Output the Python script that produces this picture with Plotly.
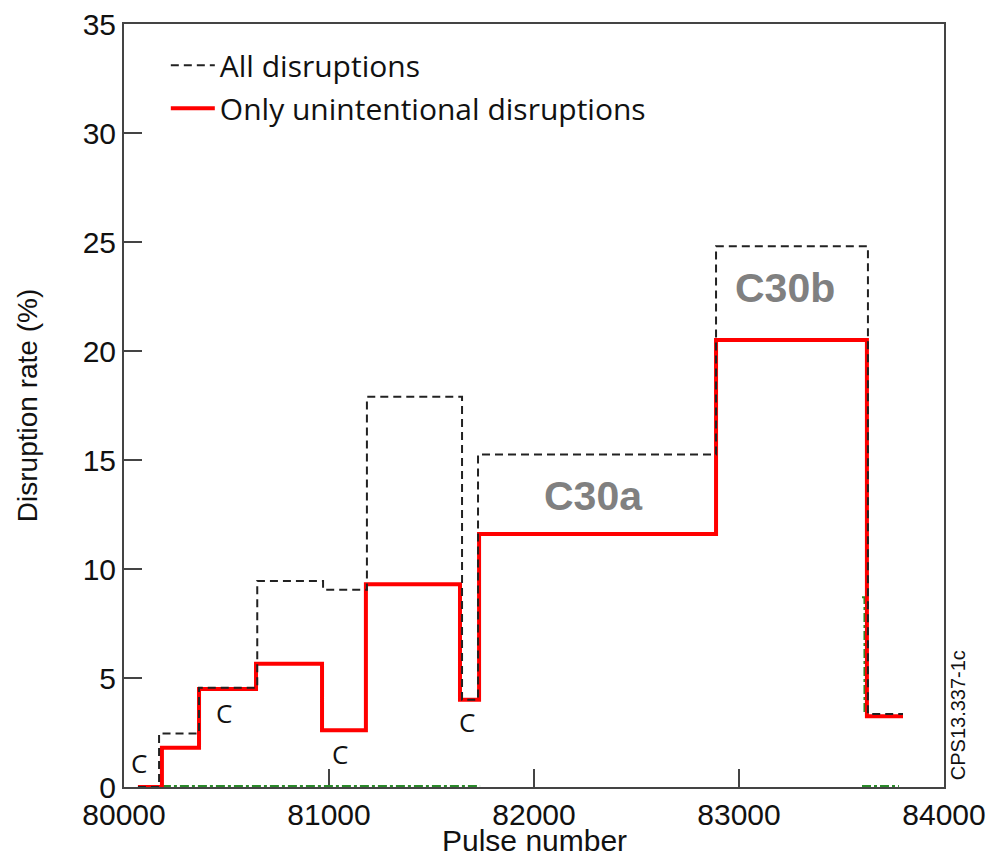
import plotly.graph_objects as go

# ---- data ----
# step edges (pulse numbers) and rates (%) for each interval
all_edges = [80068, 80171, 80366, 80650, 80971, 81185, 81649, 81727, 82888, 83629, 83800]
all_rates = [0.0, 2.45, 4.55, 9.45, 9.05, 17.9, 4.0, 15.25, 24.8, 3.35]

unint_edges = [80068, 80185, 80366, 80644, 80966, 81180, 81639, 81732, 82888, 83624, 83800]
unint_rates = [0.0, 1.8, 4.5, 5.65, 2.6, 9.3, 4.0, 11.6, 20.5, 3.25]

# partially hidden green dash-dot series
green_x = [80185, 81737, None, 83600, 83612, 83612, None, 83600, 83780]
green_y = [0.05, 0.05, None, 8.7, 8.7, 3.3, None, 0.05, 0.05]

# labels
c_labels_x = [80073, 80490, 81055, 81673]
c_labels_y = [1.1, 3.4, 1.5, 3.0]
campaign_labels = ["C30a", "C30b"]
campaign_x = [82288, 83224]
campaign_y = [13.35, 22.9]

x_ticks = [80000, 81000, 82000, 83000, 84000]
y_ticks = [0, 5, 10, 15, 20, 25, 30, 35]

fig = go.Figure()

fig.add_trace(go.Scatter(
    x=green_x, y=green_y, mode="lines", showlegend=False,
    line=dict(color="#2a8a2a", width=2, dash="dashdot"), hoverinfo="skip"))

fig.add_trace(go.Scatter(
    x=unint_edges, y=unint_rates + [unint_rates[-1]], mode="lines",
    line=dict(color="#ff0000", width=4, shape="hv"),
    name="Only unintentional disruptions", legendrank=2, legendgroup="b"))

fig.add_trace(go.Scatter(
    x=all_edges, y=all_rates + [all_rates[-1]], mode="lines",
    line=dict(color="#222222", width=2, shape="hv", dash="8px,5px"),
    name="All disruptions", legendrank=1, legendgroup="a"))

for cx, cy in zip(c_labels_x, c_labels_y):
    fig.add_annotation(x=cx, y=cy, text="C", showarrow=False,
                       font=dict(family="Open Sans", size=26, color="#111111"))

for t, cx, cy in zip(campaign_labels, campaign_x, campaign_y):
    fig.add_annotation(x=cx, y=cy, text=f"<b>{t}</b>", showarrow=False,
                       font=dict(family="Liberation Sans", size=41, color="#808080"))

fig.add_annotation(xref="paper", yref="paper", x=1.017, y=0.094, text="CPS13.337-1c",
                   textangle=-90, showarrow=False, xanchor="center", yanchor="middle",
                   font=dict(family="Liberation Sans", size=20, color="#111111"))

# x-axis title placed as paper annotation below tick labels, kept inside the page
fig.add_annotation(xref="paper", yref="paper", x=0.5, y=-0.0937, text="Pulse number",
                   showarrow=False, xanchor="center", yanchor="bottom", borderpad=0,
                   font=dict(family="Liberation Sans", size=30, color="#111111"))

axis_common = dict(showgrid=False, zeroline=False, showline=True, mirror=True,
                   linecolor="#444444", linewidth=2, ticks="inside", ticklen=18,
                   tickcolor="#444444", tickwidth=1.5, layer="below traces",
                   ticklabeloverflow="allow")

fig.update_xaxes(range=[80000, 84000], tickvals=x_ticks, tickformat="d",
                 tickfont=dict(family="Liberation Sans", size=30, color="#111111"),
                 **axis_common)
fig.update_yaxes(range=[0, 35], tickvals=y_ticks,
                 tickfont=dict(family="Liberation Sans", size=30, color="#111111"),
                 title=dict(text="Disruption rate (%)", standoff=37,
                            font=dict(family="Liberation Sans", size=28, color="#111111")),
                 **axis_common)

fig.update_layout(
    width=988, height=860,
    margin=dict(l=124, r=44, t=24, b=73, autoexpand=False),
    paper_bgcolor="white", plot_bgcolor="white",
    showlegend=True,
    legend=dict(x=0.051, y=0.98, xanchor="left", yanchor="top",
                bgcolor="rgba(0,0,0,0)", itemwidth=44, tracegroupgap=1,
                font=dict(family="Open Sans", size=30, color="#111111")),
)

fig.write_html("out.html")
